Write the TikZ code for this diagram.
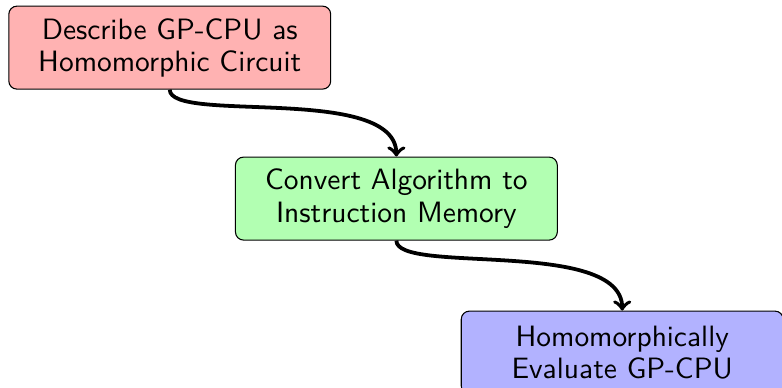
\documentclass[tikz,border=0pt]{standalone}
\usepackage{tikz}

\begin{document}
\begin{tikzpicture}[
    stage/.style={rectangle, draw, rounded corners=3pt, align=center,
                  minimum width=4.19cm, minimum height=1.08cm,
                  font=\sffamily\fontsize{10.9}{11.9}\selectfont},
    flow/.style={->, line width=1.4pt, out=-90, in=90,
                 out looseness=0.37, in looseness=0.79}
  ]
    \useasboundingbox (0, 0) rectangle (10.18, -5.04);

    % 箱を置く
    \node[stage, fill=red!30]   (describe) at (2.21, -0.62) {Describe GP-CPU as\\Homomorphic Circuit};
    \node[stage, fill=green!30] (convert)  at (5.16, -2.585) {Convert Algorithm to\\Instruction Memory};
    \node[stage, fill=blue!30]  (evaluate) at (8.10, -4.59) {Homomorphically\\Evaluate GP-CPU};

    % 矢印を引く
    \draw[flow] (describe) to (convert);
    \draw[flow] (convert) to (evaluate);

  \end{tikzpicture}
\end{document}
